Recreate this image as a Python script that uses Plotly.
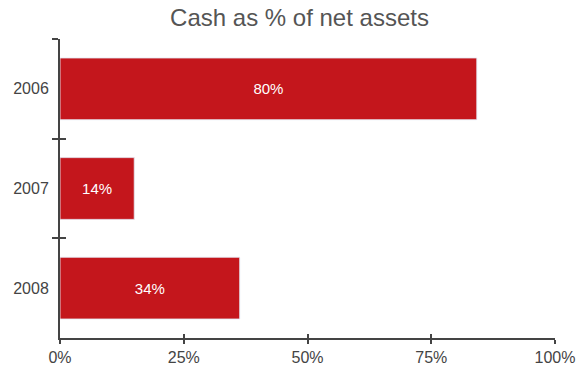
import plotly.graph_objects as go

years = ["2006", "2007", "2008"]
values = [84.2, 15.0, 36.3]
labels = ["80%", "14%", "34%"]
x_ticks = [0, 25, 50, 75, 100]
x_tick_text = ["0%", "25%", "50%", "75%", "100%"]

RED = "#C4161C"
AX = "#444444"
FONT = "Liberation Sans, Arial, sans-serif"

fig = go.Figure()
fig.add_trace(go.Bar(
    y=years, x=values, orientation="h", marker_color=RED, width=0.62,
    text=labels, textposition="inside", insidetextanchor="middle",
    textfont=dict(color="white", size=15, family=FONT), hoverinfo="skip",
))
# invisible twin for inside-tick overlay axes
fig.add_trace(go.Bar(
    y=years, x=values, orientation="h", marker_color="rgba(0,0,0,0)", width=0.62,
    xaxis="x2", yaxis="y2", hoverinfo="skip", showlegend=False,
))

fig.update_layout(
    width=576, height=365,
    margin=dict(l=60, r=21, t=39, b=27, autoexpand=False),
    paper_bgcolor="white", plot_bgcolor="white",
    showlegend=False,
    title=dict(text="Cash as % of net assets", x=0.52, xanchor="center",
               y=1 - 18 / 365, yanchor="middle",
               font=dict(size=24, color="#555555", family=FONT)),
    xaxis=dict(range=[0, 100], tickvals=x_ticks, ticktext=x_tick_text, automargin=False,
               showgrid=False, zeroline=False, showline=True, linecolor=AX, linewidth=2,
               ticks="outside", ticklen=4, tickwidth=2, tickcolor=AX,
               tickfont=dict(size=16, color=AX, family=FONT)),
    yaxis=dict(autorange="reversed", showgrid=False, zeroline=False, automargin=False,
               showline=True, linecolor=AX, linewidth=2,
               ticks="outside", tickson="boundaries", ticklen=6, tickwidth=2, tickcolor=AX,
               ticklabelstandoff=6,
               tickfont=dict(size=16, color=AX, family=FONT)),
    xaxis2=dict(overlaying="x", anchor="y", side="bottom", matches="x", automargin=False,
                tickvals=x_ticks, showticklabels=False, showgrid=False, zeroline=False,
                showline=False, ticks="inside", ticklen=4, tickwidth=2, tickcolor=AX),
    yaxis2=dict(overlaying="y", anchor="x", side="left", matches="y", automargin=False,
                showticklabels=False, showgrid=False, zeroline=False, showline=False,
                ticks="inside", tickson="boundaries", ticklen=6, tickwidth=2, tickcolor=AX),
    bargap=0.38,
)

fig.write_html("out.html")
